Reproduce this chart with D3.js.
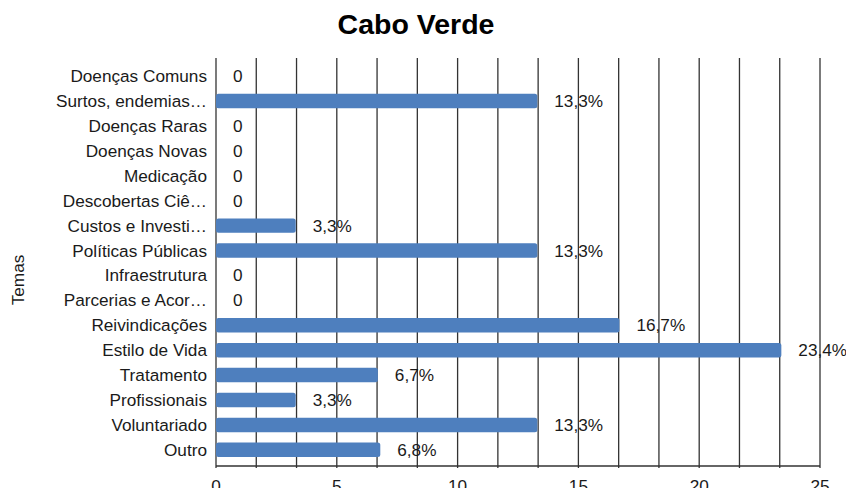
<!DOCTYPE html>
<html>
<head>
<meta charset="utf-8">
<script src="https://cdn.jsdelivr.net/npm/d3@7"></script>
<style>
  body { margin: 0; background: #fff; }
  text { font-family: "Liberation Sans", Arial, Helvetica, sans-serif; }
</style>
</head>
<body>
<div id="container"></div>
<script>
const title = "Cabo Verde";
const yLabel = "Temas";
const categories = [
  "Doenças Comuns", "Surtos, endemias…", "Doenças Raras", "Doenças Novas",
  "Medicação", "Descobertas Ciê…", "Custos e Investi…", "Políticas Públicas",
  "Infraestrutura", "Parcerias e Acor…", "Reivindicações", "Estilo de Vida",
  "Tratamento", "Profissionais", "Voluntariado", "Outro"
];
const values = [0, 13.3, 0, 0, 0, 0, 3.3, 13.3, 0, 0, 16.7, 23.4, 6.7, 3.3, 13.3, 6.8];
const xTickLabels = [0, 5, 10, 15, 20, 25];

const width = 846, height = 488;
const margin = { top: 60, right: 26, bottom: 22, left: 216 };
const fontSize = "17.2px";

const svg = d3.select("#container")
  .append("svg")
  .attr("width", width)
  .attr("height", height);

const x = d3.scaleLinear().domain([0, 25]).range([margin.left, width - margin.right]);
const y = d3.scaleBand()
  .domain(categories)
  .range([margin.top, height - margin.bottom])
  .paddingInner(0.42)
  .paddingOuter(0.36);

// gridlines every 5/3
const grid = d3.range(0, 15).map(i => (i + 1) * 5 / 3);
svg.append("g")
  .selectAll("line")
  .data(grid)
  .enter()
  .append("line")
  .attr("x1", d => x(d))
  .attr("x2", d => x(d))
  .attr("y1", margin.top - 2)
  .attr("y2", height - margin.bottom + 2)
  .style("stroke", "#333")
  .style("stroke-width", 1.3);

// axis lines
svg.append("line")
  .attr("x1", x(0)).attr("x2", x(0))
  .attr("y1", margin.top - 2).attr("y2", height - margin.bottom + 2)
  .style("stroke", "#333").style("stroke-width", 1.3);
svg.append("line")
  .attr("x1", x(0)).attr("x2", x(25))
  .attr("y1", height - margin.bottom).attr("y2", height - margin.bottom)
  .style("stroke", "#333").style("stroke-width", 1.3);

const rows = categories.map((c, i) => ({ cat: c, val: values[i] }));

// bars
svg.append("g")
  .selectAll("rect")
  .data(rows.filter(d => d.val > 0))
  .enter()
  .append("rect")
  .attr("x", x(0))
  .attr("y", d => y(d.cat))
  .attr("width", d => x(d.val) - x(0))
  .attr("height", y.bandwidth())
  .attr("rx", 2.5)
  .style("fill", "#4e7fbe");

// value labels
svg.append("g")
  .selectAll("text")
  .data(rows)
  .enter()
  .append("text")
  .attr("x", d => x(d.val) + 17)
  .attr("y", d => y(d.cat) + y.bandwidth() / 2)
  .attr("dy", "0.35em")
  .style("font-size", fontSize)
  .style("fill", "#1a1a1a")
  .text(d => d.val === 0 ? "0" : d.val.toFixed(1).replace(".", ",") + "%");

// category labels
svg.append("g")
  .selectAll("text")
  .data(categories)
  .enter()
  .append("text")
  .attr("x", x(0) - 9)
  .attr("y", d => y(d) + y.bandwidth() / 2)
  .attr("dy", "0.35em")
  .attr("text-anchor", "end")
  .style("font-size", fontSize)
  .style("fill", "#1a1a1a")
  .text(d => d);

// x tick labels
svg.append("g")
  .selectAll("text")
  .data(xTickLabels)
  .enter()
  .append("text")
  .attr("x", d => x(d))
  .attr("y", 492)
  .attr("text-anchor", "middle")
  .style("font-size", fontSize)
  .style("fill", "#1a1a1a")
  .text(d => d);

// y axis title
svg.append("text")
  .attr("transform", "translate(24 280) rotate(-90)")
  .attr("text-anchor", "middle")
  .style("font-size", fontSize)
  .style("fill", "#1a1a1a")
  .text(yLabel);

// title
svg.append("text")
  .attr("x", 416)
  .attr("y", 34)
  .attr("text-anchor", "middle")
  .style("font-size", "28.5px")
  .style("font-weight", "bold")
  .style("fill", "#000")
  .text(title);
</script>
</body>
</html>
